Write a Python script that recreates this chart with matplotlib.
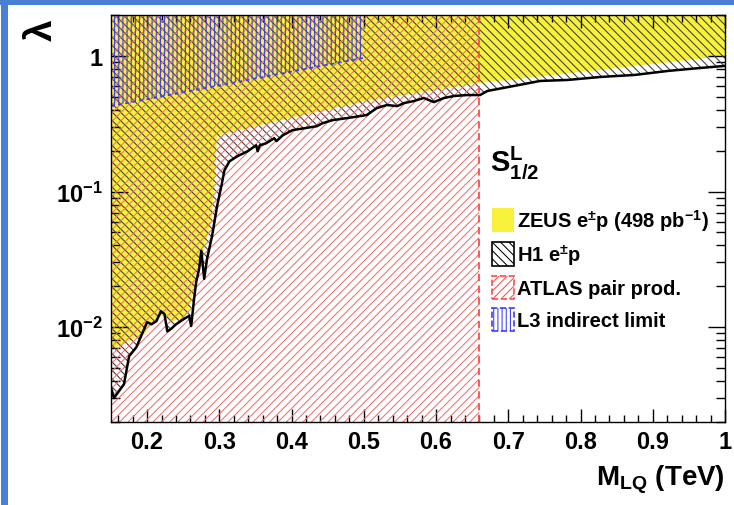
import matplotlib
matplotlib.use('Agg')
import matplotlib.pyplot as plt
from matplotlib.patches import Patch, Rectangle
from matplotlib.ticker import FixedLocator, FixedFormatter, MultipleLocator, NullFormatter

plt.rcParams['font.family'] = ['Liberation Sans', 'DejaVu Sans']
plt.rcParams['font.weight'] = 'bold'
plt.rcParams['mathtext.default'] = 'regular'
plt.rcParams['hatch.linewidth'] = 0.75

# ---------------- data ----------------
x_range = [0.15, 1.0]
y_range = [0.002, 2.0]

h1_mass = [0.150, 0.154, 0.168, 0.175, 0.185, 0.200, 0.206, 0.213, 0.219, 0.224,
           0.228, 0.233, 0.240, 0.251, 0.258, 0.261, 0.265, 0.268, 0.272, 0.275,
           0.279, 0.283, 0.290, 0.297, 0.303, 0.307, 0.314, 0.325, 0.339, 0.351,
           0.353, 0.356, 0.365, 0.376, 0.379, 0.388, 0.401, 0.435, 0.443, 0.457,
           0.476, 0.504, 0.518, 0.532, 0.546, 0.556, 0.569, 0.583, 0.597, 0.611,
           0.625, 0.643, 0.661, 0.671, 0.708, 0.744, 0.782, 0.828, 0.875, 0.921,
           0.967, 1.000]
h1_lambda = [0.0036, 0.0030, 0.0038, 0.0061, 0.0071, 0.0109, 0.0105, 0.0111, 0.0131, 0.0125,
             0.0093, 0.0097, 0.0105, 0.0115, 0.0121, 0.0102, 0.0161, 0.0216, 0.0269, 0.0366,
             0.0227, 0.0319, 0.0472, 0.0788, 0.111, 0.143, 0.167, 0.182, 0.198, 0.219,
             0.198, 0.219, 0.227, 0.247, 0.235, 0.260, 0.283, 0.303, 0.319, 0.336,
             0.347, 0.366, 0.412, 0.434, 0.426, 0.449, 0.464, 0.489, 0.456, 0.489,
             0.506, 0.514, 0.514, 0.551, 0.600, 0.653, 0.664, 0.699, 0.723, 0.774,
             0.815, 0.843]

zeus_mass = [0.150, 0.168, 0.185, 0.196, 0.203, 0.217, 0.224, 0.233, 0.251, 0.258,
             0.265, 0.269, 0.279, 0.289, 0.293, 0.297, 0.300, 0.397, 0.504, 0.661,
             0.828, 1.000]
zeus_lambda = [0.0069, 0.0075, 0.0084, 0.0089, 0.0100, 0.0119, 0.0123, 0.0109, 0.0119, 0.0136,
               0.0191, 0.0269, 0.0378, 0.0631, 0.105, 0.26, 0.26, 0.347, 0.464, 0.631,
               0.788, 1.0]

atlas_mass_limit = 0.66

l3_mass = [0.15, 0.325, 0.50]
l3_lambda = [0.426, 0.642, 0.966]

x_ticks = [0.2, 0.3, 0.4, 0.5, 0.6, 0.7, 0.8, 0.9, 1.0]
x_ticklabels = ['0.2', '0.3', '0.4', '0.5', '0.6', '0.7', '0.8', '0.9', '1']
y_ticks = [0.01, 0.1, 1.0]
y_ticklabels = ['10$^{-2}$', '10$^{-1}$', '1']

legend_labels = ['ZEUS e$^{\\pm}$p (498 pb$^{-1}$)', 'H1 e$^{\\pm}$p',
                 'ATLAS pair prod.', 'L3 indirect limit']

# ---------------- colours ----------------
c_zeus = '#f8f13c'
c_h1 = '#3a3a3a'
c_atlas = '#ef6f6f'
c_atlas_line = '#ff4b4b'
c_l3 = '#3c3cff'

fig = plt.figure(figsize=(7.34, 5.06), dpi=100)
W, H = 734, 506
ax = fig.add_axes([111 / W, 1 - 423 / H, (725 - 111) / W, (423 - 16) / H])
ax.set_yscale('log')
ax.set_xlim(*x_range)
ax.set_ylim(*y_range)

# ZEUS
ax.fill_between(zeus_mass, zeus_lambda, y_range[1], facecolor=c_zeus,
                edgecolor='none', linewidth=0, zorder=1)
# H1 hatched
ax.fill_between(h1_mass, h1_lambda, y_range[1], facecolor='none',
                edgecolor=c_h1, hatch='\\\\\\\\', linewidth=0, zorder=2)
# ATLAS
ax.fill_between([x_range[0], atlas_mass_limit], y_range[0], y_range[1],
                facecolor='none', edgecolor=c_atlas, hatch='////', linewidth=0, zorder=3)
ax.axvline(atlas_mass_limit, color=c_atlas_line, ls=(0, (4, 2.5)), lw=1.3, zorder=4)
# L3
ax.fill_between(l3_mass, l3_lambda, y_range[1], facecolor='none',
                edgecolor=c_l3, hatch='||||', linewidth=0, zorder=3.5)
ax.plot(l3_mass, l3_lambda, color=c_l3, ls=(0, (2, 2)), lw=1.3, zorder=4)
# H1 line
ax.plot(h1_mass, h1_lambda, color='black', lw=1.8, zorder=5)

# ticks
ax.xaxis.set_major_locator(FixedLocator(x_ticks))
ax.xaxis.set_major_formatter(FixedFormatter(x_ticklabels))
ax.xaxis.set_minor_locator(MultipleLocator(0.02))
ax.yaxis.set_major_locator(FixedLocator(y_ticks))
ax.yaxis.set_major_formatter(FixedFormatter(y_ticklabels))
ax.yaxis.set_minor_formatter(NullFormatter())
ax.tick_params(which='both', direction='in', top=True, right=True, width=1.0, color='black')
ax.tick_params(axis='x', which='major', length=9.5, labelsize=17, pad=6)
ax.tick_params(axis='x', which='minor', length=5)
ax.tick_params(axis='y', which='major', length=12, labelsize=17, pad=6)
ax.tick_params(axis='y', which='minor', length=6.5)
for s in ax.spines.values():
    s.set_linewidth(1.0)
    s.set_zorder(10)

# axis titles
fig.text(725 / W, 1 - 486 / H, 'M$_{LQ}$ (TeV)', ha='right', va='baseline', fontsize=20)
fig.text(42 / W, 1 - 30 / H, '\u03bb', ha='center', va='center', rotation=90, fontsize=28)

# legend
ax.text((490 - 111) / 614, (423 - 172) / 407, 'S$^{L}_{1/2}$', transform=ax.transAxes,
        ha='left', va='baseline', fontsize=21)
handles = [
    Patch(facecolor=c_zeus, edgecolor='none'),
    Patch(facecolor='white', edgecolor='black', hatch='\\\\\\\\', linewidth=1.2),
    Patch(facecolor='white', edgecolor=c_atlas_line, hatch='////', linewidth=1.2, linestyle='--'),
    Patch(facecolor='white', edgecolor=c_l3, hatch='||||', linewidth=1.2, linestyle='--'),
]
ax.legend(handles, legend_labels, loc='upper left', bbox_to_anchor=((492 - 111) / 614, (423 - 208) / 407),
          frameon=False, fontsize=14.5, handlelength=1.1, handleheight=1.4,
          labelspacing=0.45, handletextpad=0.15, borderpad=0, borderaxespad=0)

# blue frame
fig.patches.append(Rectangle((1.5 / W, 0), 6.5 / W, 1, transform=fig.transFigure,
                             facecolor='#4a7fd6', edgecolor='none'))
fig.patches.append(Rectangle((0, 1 - 6 / H), 1, 6 / H, transform=fig.transFigure,
                             facecolor='#4a7fd6', edgecolor='none'))

fig.savefig('out.png', dpi=100)
